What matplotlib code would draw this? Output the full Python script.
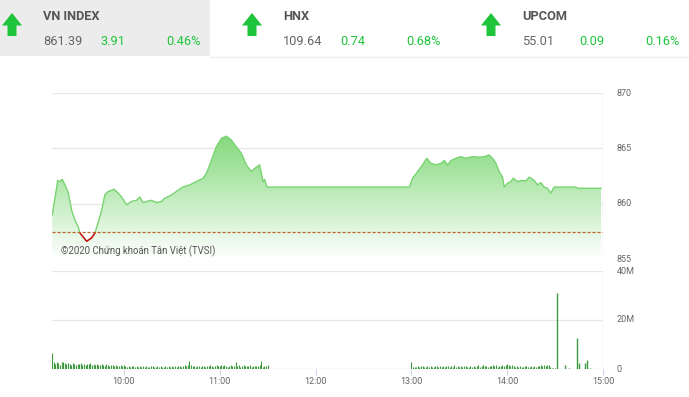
import matplotlib
matplotlib.use("Agg")
from matplotlib import pyplot as plt
from matplotlib.patches import Rectangle, Polygon
import numpy as np

# ---- du lieu ----
# header: ten chi so, gia tri, thay doi, phan tram
idx_names = ["VN INDEX", "HNX", "UPCOM"]
idx_values = ["861.39", "109.64", "55.01"]
idx_changes = ["3.91", "0.74", "0.09"]
idx_pct = ["0.46%", "0.68%", "0.16%"]

ref_price = 857.48

# phut tinh tu 9:00
price_min = [15.2, 18.6, 20, 21.4, 23.1, 25.2, 27.3, 29.4, 31.4, 32.5, 36.7, 39.8,
             41.9, 43.9, 46.1, 48.1, 50.2, 52.3, 53.75, 55.4, 58.6, 61.7, 64.8,
             67.9, 70, 72.1, 74.2, 77.3, 80.4, 83.6, 85.6, 88.75, 91.9, 93.75,
             96.9, 101.25, 105.4, 109.6, 111.7, 114.8, 117.9, 121.1, 124.2, 127.3,
             130.4, 133.6, 136.7, 139.8, 141.9, 145, 146.1, 147.1, 148.1, 149.6,
             238.75, 240.8, 243.9, 247, 249.6, 252.3, 255.4, 258.6, 260.6, 262.7,
             264.8, 268, 271, 274.2, 278.3, 282.5, 285.6, 288.75, 290.8, 293, 295,
             297.1, 298.1, 300.2, 302.3, 303.75, 306.4, 308.6, 311.7, 313.75,
             316.9, 319, 321.1, 323.1, 325.2, 327.3, 329.4, 343, 344, 358.75]
price_val = [859.0, 862.1, 862.0, 862.2, 861.7, 861.0, 859.4, 858.5, 857.9, 857.35,
             856.6, 856.9, 857.35, 858.3, 859.4, 860.8, 861.1, 861.2, 861.3, 861.1,
             860.6, 859.9, 860.2, 860.3, 860.6, 860.1, 860.2, 860.3, 860.1, 860.2,
             860.5, 860.7, 861.0, 861.2, 861.5, 861.7, 862.0, 862.3, 862.75, 863.9,
             865.15, 865.9, 866.1, 865.75, 865.15, 864.55, 863.5, 862.9, 863.2,
             863.5, 862.75, 862.0, 862.2, 861.5,
             861.5, 862.3, 862.9, 863.5, 864.1, 863.65, 863.5, 863.65, 863.9, 863.5,
             863.9, 864.1, 864.25, 864.1, 864.25, 864.2, 864.25, 864.4, 864.1,
             863.65, 862.9, 862.4, 861.5, 861.85, 862.0, 862.3, 862.0, 862.1,
             862.05, 862.4, 862.1, 861.7, 861.9, 861.5, 861.4, 860.95, 861.5,
             861.5, 861.39, 861.39]

# khoi luong (trieu cp), moi phut
vol_am_start = 15
vol_am = [6.7,
          2.8, 2.2, 2.9, 2.5, 1.8, 2.7, 3.0, 2.4, 2.0, 2.6, 2.1, 1.7, 2.3, 2.0, 1.6,
          2.2, 1.9, 2.4, 1.8, 2.1, 1.5, 2.0, 1.9, 2.3, 1.7,
          1.9, 1.6, 2.2, 1.8, 1.5, 2.0, 1.7, 1.4, 1.9, 1.6, 1.3, 1.8, 1.5, 1.2, 1.7,
          1.4, 1.1, 1.6, 1.3, 1.5,
          1.2, 1.0, 1.4, 0.9, 1.3, 1.1, 0.8, 1.2, 1.0, 1.3, 0.7, 1.1, 0.9, 1.2, 1.0,
          0.8, 1.1, 1.3, 0.9, 1.0, 1.2, 0.8, 1.1, 1.0, 0.9, 1.2, 1.0, 1.1, 0.9, 1.3,
          1.0, 1.2, 0.9, 1.1, 1.4, 1.0, 1.3, 1.5, 1.1, 1.6, 3.2, 1.8, 1.2, 1.4, 1.0,
          1.3, 1.1, 0.9, 1.2, 1.4, 1.0, 1.1, 1.3, 1.5, 1.2, 1.0, 1.4, 1.6, 1.1, 1.3,
          1.5, 1.2, 1.7, 1.3, 1.0, 1.4, 1.8, 1.2, 1.1, 2.7, 1.3, 1.6, 1.0, 1.4, 1.5,
          1.2, 1.3, 1.1, 1.5, 1.0, 1.2, 1.4, 1.1, 1.3, 1.6, 3.2, 1.0, 1.4, 1.1, 1.8]
vol_pm_start = 240
vol_pm = [3.0,
          0.8, 1.0, 0.7, 1.2, 0.9, 1.4, 1.1, 0.8, 1.0, 1.3, 0.9, 1.2, 1.0, 0.8, 1.3,
          1.1, 0.9, 1.2, 1.0, 1.4, 0.8, 1.1, 1.3, 0.9, 1.2, 1.0, 1.5, 0.9, 1.1, 1.0,
          1.2, 0.9, 1.1, 1.4, 1.0, 0.8, 1.2, 1.0, 1.3, 0.9, 1.1, 1.5, 1.0, 1.2, 1.6,
          1.1, 1.3, 1.0, 1.4, 1.2, 1.7, 1.1, 1.5, 1.0, 1.3, 1.2, 1.8, 1.4, 1.6, 1.9,
          1.5, 1.2, 1.7, 1.3, 1.0, 1.1, 0.9, 1.2, 1.0, 0.8, 1.1, 1.3, 0.9, 1.0, 1.2,
          0.8, 1.1, 1.0, 1.3, 1.2, 1.5, 1.4, 1.6, 1.2, 1.8, 1.5, 1.0, 0.5, 0.4, 0.6]
vol_late_min = [331, 336, 339, 344, 345, 349, 350, 352]
vol_late = [30.9, 1.6, 0.5, 12.5, 2.3, 2.4, 3.7, 0.5]

time_ticks = [60, 120, 180, 240, 300, 360]
time_labels = ["10:00", "11:00", "12:00", "13:00", "14:00", "15:00"]
price_ticks = [855, 860, 865, 870]
vol_ticks = [0, 20, 40]
vol_labels = ["0", "20M", "40M"]

W, H = 689, 397
fig = plt.figure(figsize=(W / 100, H / 100), dpi=100)

grid_c = "#e6e6e6"
border_c = "#dfe4ee"
lbl_c = "#666666"
up_c = "#1ec43a"
tfont = ["Roboto", "DejaVu Sans"]

# ---- header (toa do pixel) ----
hd = fig.add_axes([0, 0, 1, 1], zorder=-1)
hd.set_xlim(0, W)
hd.set_ylim(H, 0)
hd.axis("off")
hd.add_patch(Rectangle((0, 0), 210, 56, color="#ececec", lw=0))
hd.plot([210, W], [56.5, 56.5], color="#eeeeee", lw=1)

for i, tx in enumerate([43, 283, 522]):
    x0 = tx - 31
    arrow = [(x0 - 10, 25.5), (x0, 13), (x0 + 10, 25.5), (x0 + 4.5, 25.5),
             (x0 + 4.5, 36), (x0 - 4.5, 36), (x0 - 4.5, 25.5)]
    hd.add_patch(Polygon(arrow, closed=True, color=up_c, lw=0))
    hd.text(tx, 16.5, idx_names[i], fontsize=9.2, fontweight="bold", color="#555555",
            family=tfont, va="center", ha="left")
    hd.text(tx, 41.5, idx_values[i], fontsize=9.2, color="#666666",
            family=tfont, va="center", ha="left")
    hd.text(tx + 57, 41.5, idx_changes[i], fontsize=9.2, color=up_c,
            family=tfont, va="center", ha="left")
    hd.text(tx + 123, 41.5, idx_pct[i], fontsize=9.2, color=up_c,
            family=tfont, va="center", ha="left")

# ---- bieu do gia ----
ax = fig.add_axes([52 / W, 1 - 259 / H, 551 / W, 166 / H])
ax.patch.set_alpha(0)
pm = np.array(price_min)
pv = np.array(price_val)
# them doan nghi trua
xs = np.concatenate([pm[:54], [240 - 1.25], pm[54:]])
ys = np.concatenate([pv[:54], [861.5], pv[54:]])

poly = ax.fill_between(xs, ys, 855, color="none", lw=0)
grad = np.linspace(1, 0, 256).reshape(-1, 1)
c0 = np.array([0.35, 0.80, 0.31])
img = np.ones((256, 1, 3)) * (1 - grad)[..., None] + c0 * grad[..., None]
im = ax.imshow(img, extent=[15, 360, 855, 870], aspect="auto", origin="upper", zorder=1)
im.set_clip_path(poly.get_paths()[0], transform=ax.transData)

ax.plot(xs, ys, color="#78d470", lw=1, zorder=3)
# doan duoi gia tham chieu: ve do, cat theo duong tham chieu
red, = ax.plot(xs, ys, color="#d01010", lw=1.1, zorder=4)
below = Rectangle((15, 850), 345, ref_price - 850, transform=ax.transData)
red.set_clip_path(below)
ax.axhline(ref_price, color="#c0622a", lw=0.9, ls=(0, (2.5, 1.5)), zorder=5)

ax.set_xlim(15, 360)
ax.set_ylim(855, 870)
for p in price_ticks:
    ax.axhline(p, color=grid_c, lw=0.9, zorder=0)
    ax.text(1.025, (p - 855) / 15, str(p), transform=ax.transAxes, fontsize=6.5,
            color=lbl_c, family=tfont, va="center", ha="left")
ax.axvline(360, color=border_c, lw=1, zorder=6)
for s in ax.spines.values():
    s.set_visible(False)
ax.set_xticks([])
ax.set_yticks([])
ax.text(61, 251, "©2020 Chứng khoán Tân Việt (TVSI)", transform=hd.transData,
        fontsize=6.9, color="#555555", family=tfont, va="center", ha="left")

# ---- khoi luong ----
av = fig.add_axes([52 / W, 1 - 369 / H, 551 / W, 98 / H])
av.patch.set_alpha(0)
am_x = vol_am_start + np.arange(len(vol_am))
pm_x = vol_pm_start + np.arange(len(vol_pm))
bar_c = "#3f9a3f"
av.vlines(am_x, 0, vol_am, color=bar_c, lw=0.8)
av.vlines(pm_x, 0, vol_pm, color=bar_c, lw=0.8)
av.vlines(vol_late_min, 0, vol_late, color=bar_c, lw=1.0)
av.set_xlim(15, 360)
av.set_ylim(0, 40)
for v, lab in zip(vol_ticks, vol_labels):
    av.axhline(v, color=grid_c if v else "#ccd6eb", lw=0.9, zorder=0)
    av.text(1.025, v / 40, lab, transform=av.transAxes, fontsize=6.5,
            color=lbl_c, family=tfont, va="center", ha="left")
av.axvline(360, color=border_c, lw=1)
for s in av.spines.values():
    s.set_visible(False)
av.set_yticks([])
av.set_xticks(time_ticks)
av.set_xticklabels(time_labels, fontsize=6.5, color=lbl_c, family=tfont)
av.tick_params(axis="x", length=4, color="#ccd6eb", pad=2)

fig.savefig("out.png", dpi=100)
